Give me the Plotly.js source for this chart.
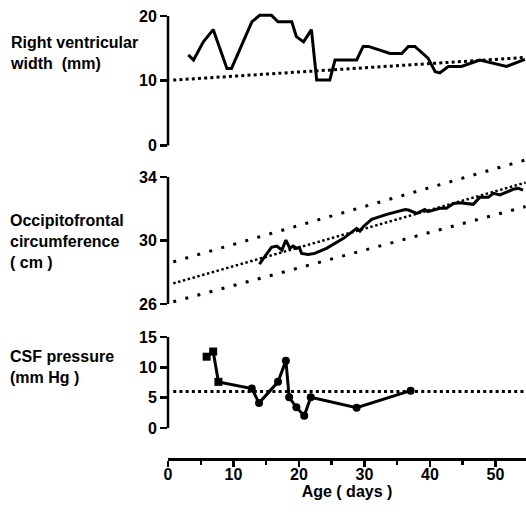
<!DOCTYPE html>
<html>
<head>
<meta charset="utf-8">
<script src="https://cdn.plot.ly/plotly-3.0.1.min.js"></script>
<style>html,body{margin:0;padding:0;background:#fff;}#chart{width:526px;height:514px;}</style>
</head>
<body>
<div id="chart"></div>
<script>
// ---- Data ----
// Right ventricular width (mm)
const days_rv = [3.1, 3.9, 5.4, 6.9, 9.0, 9.7, 12.8, 14.0, 15.8, 16.8, 18.9, 19.6, 20.7, 21.9, 22.7, 24.7, 25.5, 28.8, 29.8, 30.6, 33.9, 35.7, 36.7, 37.7, 39.7, 40.8, 41.5, 42.8, 44.8, 47.6, 51.7, 54.5];
const rv_width = [14.0, 13.2, 16.0, 17.9, 11.9, 11.9, 19.1, 20.1, 20.1, 19.1, 19.1, 16.8, 16.0, 17.9, 10.1, 10.1, 13.2, 13.2, 15.3, 15.3, 14.2, 14.2, 15.3, 15.3, 13.5, 11.4, 11.2, 12.2, 12.2, 13.2, 12.2, 13.3];
const rv_ref_days = [0.8, 54.6];
const rv_ref = [10.1, 13.6];

// Occipitofrontal circumference (cm)
const days_ofc = [13.95, 14.8, 15.8, 16.6, 17.4, 18.0, 18.6, 19.1, 19.6, 20.05, 20.4, 21.4, 22.4, 24.2, 26.8, 28.8, 29.3, 29.8, 31.1, 33.4, 36.2, 36.7, 38.0, 39.2, 39.7, 41.5, 42.5, 43.6, 44.6, 46.6, 47.6, 48.9, 49.7, 50.7, 51.7, 52.7, 53.5, 54.2];
const ofc = [28.52, 28.98, 29.57, 29.65, 29.40, 30.03, 29.51, 29.65, 29.51, 29.57, 29.19, 29.13, 29.19, 29.51, 30.14, 30.77, 30.60, 30.87, 31.33, 31.65, 31.96, 31.92, 31.71, 31.96, 31.82, 32.03, 32.03, 32.34, 32.38, 32.28, 32.72, 32.72, 32.97, 32.87, 33.03, 33.23, 33.29, 33.18];
const ofc_ref_days = [0.8, 54.6];
const ofc_upper = [28.66, 35.08];
const ofc_mid = [27.30, 33.65];
const ofc_lower = [26.14, 32.14];

// CSF pressure (mm Hg)
const days_csf = [5.9, 6.9, 7.7, 12.8, 13.9, 16.8, 18.0, 18.5, 19.6, 20.8, 21.8, 28.8, 37.05];
const csf = [11.75, 12.6, 7.6, 6.5, 4.1, 7.6, 11.1, 5.05, 3.4, 2.0, 5.05, 3.35, 6.15];
const csf_symbols = ['square', 'square', 'square', 'circle', 'circle', 'circle', 'circle', 'circle', 'circle', 'circle', 'circle', 'circle', 'circle'];
const csf_ref_days = [0.8, 54.6];
const csf_ref = [6.0, 6.0];

// Tick labels
const x_ticks = [0, 10, 20, 30, 40, 50];
const rv_ticks = [0, 10, 20];
const ofc_ticks = [26, 30, 34];
const csf_ticks = [0, 5, 10, 15];

// ---- Styling ----
const FONT = 'Liberation Sans, Arial, sans-serif';
const solid = {color: '#000', width: 3};

const traces = [
  {x: days_rv, y: rv_width, xaxis: 'x', yaxis: 'y', mode: 'lines', line: solid},
  {x: rv_ref_days, y: rv_ref, xaxis: 'x', yaxis: 'y', mode: 'lines', line: {color: '#000', width: 3, dash: '3px,3.2px'}},
  {x: days_ofc, y: ofc, xaxis: 'x', yaxis: 'y2', mode: 'lines', line: solid},
  {x: ofc_ref_days, y: ofc_upper, xaxis: 'x', yaxis: 'y2', mode: 'lines', line: {color: '#000', width: 3, dash: '3px,9.5px'}},
  {x: ofc_ref_days, y: ofc_mid, xaxis: 'x', yaxis: 'y2', mode: 'lines', line: {color: '#000', width: 2.5, dash: '2.5px,2.5px'}},
  {x: ofc_ref_days, y: ofc_lower, xaxis: 'x', yaxis: 'y2', mode: 'lines', line: {color: '#000', width: 3, dash: '3px,9.5px'}},
  {x: csf_ref_days, y: csf_ref, xaxis: 'x', yaxis: 'y3', mode: 'lines', line: {color: '#000', width: 3, dash: '3px,3.2px'}},
  {x: days_csf, y: csf, xaxis: 'x', yaxis: 'y3', mode: 'lines+markers', line: solid,
   marker: {color: '#000', size: 8, symbol: csf_symbols}}
];

const tickFont = {family: FONT, size: 16, color: '#000', weight: 'bold'};
function yax(domain, range, ticks) {
  return {
    domain: domain, range: range, anchor: 'x',
    tickvals: ticks, ticktext: ticks.map(String),
    showline: false, showgrid: false, zeroline: false,
    ticks: 'outside', ticklen: 7, tickwidth: 2.5, tickcolor: '#000',
    tickfont: tickFont, fixedrange: true
  };
}

const layout = {
  width: 526, height: 514,
  margin: {l: 168, r: 0, t: 0, b: 0},
  paper_bgcolor: '#fff', plot_bgcolor: '#fff',
  showlegend: false,
  xaxis: {
    domain: [0, 1], range: [0, 54.66], anchor: 'free', position: 0.107,
    tickvals: x_ticks, ticktext: x_ticks.map(String),
    showline: true, linecolor: '#000', linewidth: 2.5,
    showgrid: false, zeroline: false,
    ticks: 'outside', ticklen: 6, tickwidth: 2.5, tickcolor: '#000',
    ticklabelstandoff: -6,
    minor: {dtick: 5, tick0: 0, ticks: 'outside', ticklen: 4, tickwidth: 2.5, tickcolor: '#000', showgrid: false},
    tickfont: tickFont,
    title: {text: 'Age ( days )', font: {family: FONT, size: 16, color: '#000', weight: 'bold'}, standoff: 2}
  },
  yaxis: yax([0.7107, 0.9815], [-0.5, 21], rv_ticks),
  yaxis2: yax([0.4023, 0.6957], [25.8, 35.3], ofc_ticks),
  yaxis3: yax([0.1615, 0.3562], [-0.5, 16], csf_ticks),
  shapes: [
    {type: 'line', xref: 'paper', x0: 0, x1: 0, yref: 'y', y0: rv_ticks[0], y1: rv_ticks[rv_ticks.length - 1], line: {color: '#000', width: 2.5}},
    {type: 'line', xref: 'paper', x0: 0, x1: 0, yref: 'y2', y0: ofc_ticks[0], y1: ofc_ticks[ofc_ticks.length - 1], line: {color: '#000', width: 2.5}},
    {type: 'line', xref: 'paper', x0: 0, x1: 0, yref: 'y3', y0: csf_ticks[0], y1: csf_ticks[csf_ticks.length - 1], line: {color: '#000', width: 2.5}}
  ],
  annotations: [
    {text: 'Right ventricular<br>width  (mm)', xref: 'paper', yref: 'paper', x: -0.447, y: 1 - 53 / 514, xanchor: 'left', yanchor: 'middle', align: 'left', showarrow: false,
     font: {family: FONT, size: 16, color: '#000', weight: 'bold'}},
    {text: 'Occipitofrontal<br>circumference<br>( cm )', xref: 'paper', yref: 'paper', x: -0.447, y: 1 - 241 / 514, xanchor: 'left', yanchor: 'middle', align: 'left', showarrow: false,
     font: {family: FONT, size: 16, color: '#000', weight: 'bold'}},
    {text: 'CSF pressure<br>(mm Hg )', xref: 'paper', yref: 'paper', x: -0.447, y: 1 - 367 / 514, xanchor: 'left', yanchor: 'middle', align: 'left', showarrow: false,
     font: {family: FONT, size: 16, color: '#000', weight: 'bold'}}
  ]
};

Plotly.newPlot('chart', traces, layout, {staticPlot: true, displayModeBar: false});
</script>
</body>
</html>
